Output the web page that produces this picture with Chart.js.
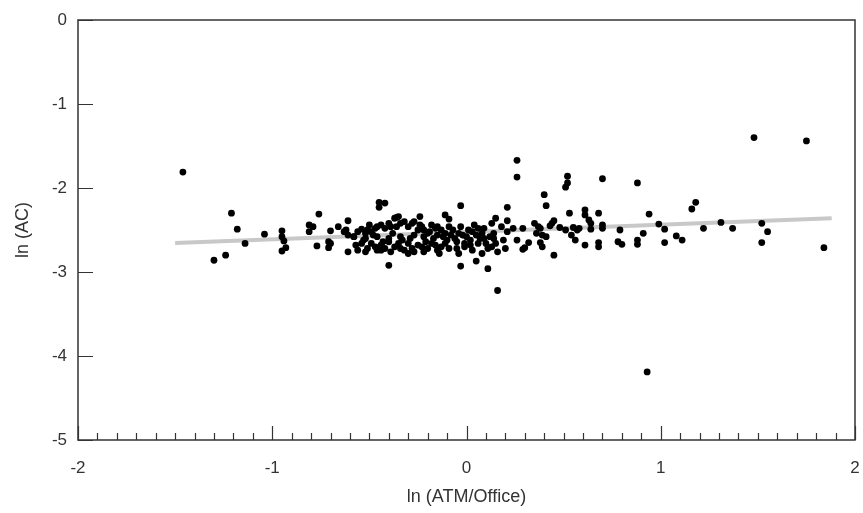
<!DOCTYPE html>
<html>
<head>
<meta charset="utf-8">
<script src="https://cdn.jsdelivr.net/npm/chart.js@4/dist/chart.umd.min.js"></script>
<style>
  html, body { margin: 0; padding: 0; background: #fff; }
  canvas { display: block; }
</style>
</head>
<body>
<canvas id="chartScatter" width="863" height="513"></canvas>
<script>
// * #### DATOS ####
const xVals = [
  -1.46, -1.21, -1.18, -1.14, -1.30, -1.24, -1.04, -0.95, -0.95, -0.94, -0.95, -0.93,
  -0.81, -0.79, -0.81, -0.76, -0.77, -0.70, -0.71, -0.70, -0.71, -0.66, -0.61, -0.63,
  -0.62, -0.61, -0.58, -0.61, -0.56,
  -0.45, -0.42, -0.45, -0.40, -0.36, -0.24, -0.11, -0.09,
  -0.56, -0.54, -0.52, -0.51, -0.49, -0.47, -0.46, -0.44, -0.42, -0.40, -0.39, -0.37, -0.35, -0.34,
  -0.32, -0.30, -0.28, -0.27, -0.25, -0.23, -0.22, -0.20, -0.18, -0.16, -0.15, -0.13, -0.11, -0.09,
  -0.57, -0.54, -0.52, -0.51, -0.49, -0.47, -0.46, -0.44, -0.42, -0.40, -0.39, -0.37, -0.35, -0.34,
  -0.32, -0.30, -0.28, -0.27, -0.25, -0.23, -0.22, -0.20, -0.18, -0.16, -0.15, -0.13, -0.11, -0.09,
  -0.58, -0.52, -0.46, -0.40, -0.34, -0.29, -0.22, -0.17, -0.12,
  -0.07, -0.06, -0.05, -0.04, -0.03, -0.02, -0.01, 0.01, 0.02, 0.03, 0.04, 0.05, 0.06, 0.08,
  0.09, 0.09, 0.11, 0.13, 0.14, 0.15, 0.16, 0.18, 0.19, 0.20, 0.21, 0.24, 0.26,
  -0.08, -0.05, 0.00, 0.03, 0.07, 0.12, 0.10, -0.01, 0.06, 0.13,
  -0.53, -0.48, -0.43, -0.38, -0.33, -0.27, -0.21, -0.15, -0.10, -0.50,
  -0.44, -0.36, -0.30, -0.24, -0.19, -0.14, -0.04, 0.02, 0.08, 0.14,
  -0.03, 0.21, 0.15, 0.26, 0.26, 0.21, -0.03, 0.05, 0.11, 0.16,
  0.52, 0.52, 0.51, 0.70, 0.88, 0.40, 0.41, 0.53, 0.61, 0.61, 0.68, 0.63, 0.94, 1.18, 1.16,
  1.22, 1.31, 0.99, 1.02, 1.02, 1.08, 1.11, 0.91, 0.88, 0.88, 0.79, 0.78, 0.80, 0.70, 0.70,
  0.68, 0.68, 0.64, 0.64, 0.61, 0.56, 0.54, 0.57, 0.58, 0.55, 0.51, 0.48, 0.45, 0.44, 0.43,
  0.45, 0.35, 0.37, 0.38, 0.36, 0.39, 0.41, 0.38, 0.39, 0.32, 0.30, 0.29, 0.29,
  1.48, 1.75, 1.37, 1.52, 1.55, 1.52, 1.84, 0.93
];
const yVals = [
  -1.81, -2.30, -2.49, -2.66, -2.86, -2.80, -2.55, -2.51, -2.58, -2.63, -2.75, -2.71,
  -2.44, -2.46, -2.52, -2.31, -2.69, -2.51, -2.64, -2.66, -2.71, -2.46, -2.39, -2.52,
  -2.50, -2.56, -2.58, -2.76, -2.74,
  -2.17, -2.18, -2.23, -2.92, -2.35, -2.34, -2.32, -2.37,
  -2.52, -2.49, -2.54, -2.50, -2.52, -2.48, -2.46, -2.44, -2.48, -2.42, -2.46, -2.36, -2.34, -2.42,
  -2.40, -2.46, -2.42, -2.40, -2.50, -2.46, -2.50, -2.54, -2.44, -2.48, -2.46, -2.50, -2.54, -2.46,
  -2.68, -2.66, -2.76, -2.72, -2.66, -2.70, -2.74, -2.68, -2.72, -2.64, -2.76, -2.70, -2.66, -2.72,
  -2.74, -2.66, -2.72, -2.76, -2.68, -2.70, -2.76, -2.72, -2.66, -2.68, -2.74, -2.70, -2.66, -2.72,
  -2.58, -2.60, -2.58, -2.60, -2.58, -2.60, -2.58, -2.60, -2.58,
  -2.50, -2.60, -2.72, -2.78, -2.46, -2.56, -2.66, -2.50, -2.62, -2.74, -2.44, -2.56, -2.66, -2.78,
  -2.48, -2.60, -2.72, -2.42, -2.54, -2.66, -2.76, -2.46, -2.62, -2.72, -2.52, -2.48, -2.62,
  -2.56, -2.64, -2.58, -2.52, -2.60, -2.58, -2.66, -2.70, -2.48, -2.70,
  -2.62, -2.56, -2.64, -2.54, -2.62, -2.56, -2.64, -2.56, -2.62, -2.44,
  -2.74, -2.46, -2.78, -2.44, -2.52, -2.78, -2.54, -2.68, -2.54, -2.60,
  -2.21, -2.23, -2.36, -1.67, -1.87, -2.39, -2.93, -2.87, -2.96, -3.22,
  -1.86, -1.94, -1.99, -1.89, -1.94, -2.08, -2.21, -2.30, -2.26, -2.32, -2.30, -2.38, -2.31, -2.17, -2.25,
  -2.48, -2.41, -2.43, -2.49, -2.65, -2.57, -2.62, -2.54, -2.62, -2.67, -2.50, -2.64, -2.67, -2.44, -2.48,
  -2.65, -2.70, -2.42, -2.49, -2.68, -2.62, -2.56, -2.50, -2.48, -2.47, -2.50, -2.47, -2.39, -2.42, -2.45,
  -2.80, -2.42, -2.46, -2.48, -2.54, -2.56, -2.58, -2.65, -2.70, -2.65, -2.71, -2.48, -2.73,
  -1.40, -1.44, -2.48, -2.42, -2.52, -2.65, -2.71, -4.19
];
// recta de regresion (extremos)
const fitX = [-1.5, 1.88];
const fitY = [-2.655, -2.36];
const xTickLabels = [-2, -1, 0, 1, 2];
const yTickLabels = [0, -1, -2, -3, -4, -5];

const puntos = xVals.map((x, i) => ({ x: x, y: yVals[i] }));
const recta = fitX.map((x, i) => ({ x: x, y: fitY[i] }));

const esEntero = (v) => Math.abs(v - Math.round(v)) < 1e-6;

// * #### MARCO Y MARCAS HACIA DENTRO ####
const marcoPlugin = {
  id: "marco",
  afterDraw(chart) {
    const c = chart.ctx;
    const a = chart.chartArea;
    const sx = chart.scales.x;
    const sy = chart.scales.y;
    c.save();
    c.strokeStyle = "#333";
    c.lineWidth = 1.5;
    c.strokeRect(a.left, a.top, a.right - a.left, a.bottom - a.top);
    c.lineWidth = 1.2;
    c.beginPath();
    sx.ticks.forEach((t) => {
      const px = Math.round(sx.getPixelForValue(t.value)) + 0.5;
      const len = esEntero(t.value) ? 14 : 7;
      c.moveTo(px, a.bottom);
      c.lineTo(px, a.bottom - len);
    });
    yTickLabels.forEach((v) => {
      const py = Math.round(sy.getPixelForValue(v)) + 0.5;
      c.moveTo(a.left, py);
      c.lineTo(a.left + 15, py);
    });
    c.stroke();
    c.restore();
  },
};

const fuente = { family: "'Liberation Sans', Arial, sans-serif", size: 17 };

const ctx = document.getElementById("chartScatter");
const myChart = new Chart(ctx, {
  type: "scatter",
  data: {
    datasets: [
      {
        label: "datos",
        data: puntos,
        backgroundColor: "#000",
        borderWidth: 0,
        pointRadius: 3.4,
        order: 1,
      },
      {
        label: "ajuste",
        type: "line",
        data: recta,
        borderColor: "#c8c8c8",
        borderWidth: 4,
        pointRadius: 0,
        fill: false,
        order: 2,
      },
    ],
  },
  options: {
    responsive: false,
    animation: false,
    layout: { padding: { top: 20, right: 8, left: 0, bottom: 0 } },
    plugins: {
      legend: { display: false },
      tooltip: { enabled: false },
    },
    scales: {
      x: {
        type: "linear",
        min: -2,
        max: 2,
        afterFit: (s) => {
          s.height = 73;
          s.paddingLeft = 0;
          s.paddingRight = 0;
        },
        grid: { display: false, drawTicks: false },
        border: { display: false },
        ticks: {
          stepSize: 0.1,
          autoSkip: false,
          maxRotation: 0,
          padding: 18,
          color: "#333",
          font: fuente,
          callback: (v) => {
            if (!esEntero(v)) return "";
            const n = Math.round(v);
            return xTickLabels.includes(n) ? String(n) : "";
          },
        },
        title: {
          display: true,
          text: "ln (ATM/Office)",
          color: "#333",
          font: { family: fuente.family, size: 18 },
          padding: { top: 0, bottom: 5 },
        },
      },
      y: {
        type: "linear",
        min: -5,
        max: 0,
        afterFit: (s) => {
          s.width = 78;
          s.paddingTop = 0;
          s.paddingBottom = 0;
        },
        grid: { display: false, drawTicks: false },
        border: { display: false },
        ticks: {
          stepSize: 1,
          padding: 11,
          color: "#333",
          font: fuente,
        },
        title: {
          display: true,
          text: "ln (AC)",
          color: "#333",
          font: { family: fuente.family, size: 18 },
          padding: { top: 12, bottom: 0 },
        },
      },
    },
  },
  plugins: [marcoPlugin],
});
</script>
</body>
</html>
